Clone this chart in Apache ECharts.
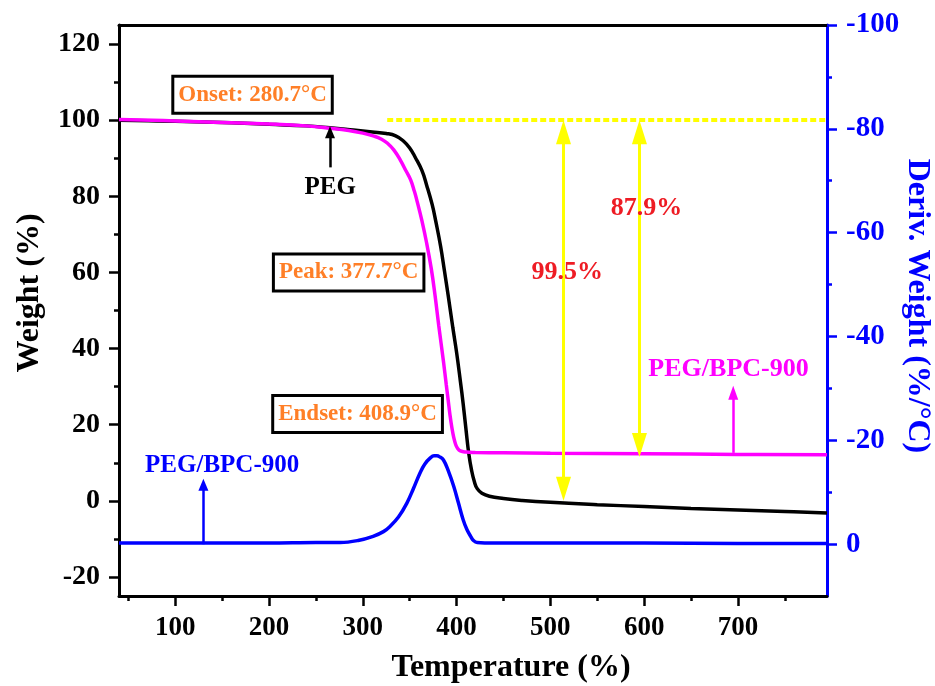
<!DOCTYPE html>
<html lang="en">
<head>
<meta charset="UTF-8">
<title>TGA / DTG</title>
<style>
    html, body { margin: 0; height: 100%; overflow: hidden; background: #fff; }
    #main { width: 935px; height: 686px; }
</style>
</head>
<body>
<div id="main"></div>
<script src="https://cdn.jsdelivr.net/npm/echarts@6/dist/echarts.min.js"></script>
<script>
    // PEG (black) TG curve: temperature / weight %
    const pegT = [40, 80, 120, 160, 200, 240, 265, 290, 310, 325, 335, 343, 350, 356, 363, 368, 374, 378, 383, 387, 391, 396, 400, 404, 407, 410, 413, 416, 419, 422, 427, 435, 450, 470, 500, 550, 600, 650, 700, 750, 795];
    const pegW = [100, 99.8, 99.6, 99.3, 98.9, 98.5, 98.0, 97.4, 96.9, 96.5, 95.9, 94.6, 92.7, 90.2, 86.8, 83.0, 77.8, 73.2, 66.8, 60.5, 54, 45.5, 39, 31.5, 25.5, 18.8, 12.4, 8.0, 5.0, 3.2, 2.0, 1.2, 0.6, 0.1, -0.4, -1.0, -1.5, -2.0, -2.4, -2.8, -3.2];

    // PEG/BPC-900 (magenta) TG curve
    const bpcT = [40, 100, 150, 200, 240, 265, 285, 300, 312, 320, 326, 333, 340, 346, 351, 355, 358, 363, 368, 373, 377, 381, 386, 389, 391, 393, 395, 397, 399, 401, 404, 410, 420, 450, 500, 600, 700, 795];
    const bpcW = [100.2, 99.8, 99.4, 99.0, 98.5, 97.9, 97.3, 96.6, 95.8, 95.0, 94.0, 92.2, 89.5, 86.7, 84.3, 81.3, 78.6, 73.6, 67.8, 61, 54, 46, 36.6, 30.5, 26.5, 22.5, 19.2, 16.6, 14.8, 13.8, 13.1, 12.8, 12.7, 12.6, 12.5, 12.4, 12.2, 12.1];

    // PEG/BPC-900 (blue) DTG curve, right axis (%/°C)
    const dtgT = [40, 100, 200, 250, 276, 295, 311, 322, 329, 338, 347, 354, 361, 366, 372, 376, 379, 382, 386, 391, 397, 402, 407, 411, 415, 418, 422, 440, 500, 600, 700, 795];
    const dtgV = [-0.2, -0.2, -0.2, -0.3, -0.3, -0.7, -1.5, -2.4, -3.4, -5.2, -7.9, -10.7, -13.7, -15.4, -16.6, -17.0, -17.0, -16.8, -16.2, -14.2, -11.1, -7.9, -4.7, -2.8, -1.5, -0.7, -0.3, -0.2, -0.2, -0.2, -0.1, -0.1];

    // ticks
    const xMajor = [100, 200, 300, 400, 500, 600, 700];
    const xMinor = [50, 150, 250, 350, 450, 550, 650, 750];
    const yLeftMajor = [-20, 0, 20, 40, 60, 80, 100, 120];
    const yLeftMinor = [-10, 10, 30, 50, 70, 90, 110];
    const yRightMajor = [-100, -80, -60, -40, -20, 0];
    const yRightMinor = [-90, -70, -50, -30, -10];

    const FONT = "'Liberation Serif', 'Times New Roman', serif";
    const ORANGE = '#ff7f27';
    const YELLOW = '#ffff00';
    const RED = '#ee1c24';

    const pair = (a, b) => a.map((v, i) => [v, b[i]]);

    function boxLabel(text, t, w) {
        return {
            coord: [t, w], symbol: 'rect', symbolSize: 1, itemStyle: { color: 'transparent' },
            label: {
                show: true, position: 'inside', formatter: text,
                color: ORANGE, fontFamily: FONT, fontWeight: 'bold', fontSize: 23,
                backgroundColor: '#fff', borderColor: '#000', borderWidth: 3, padding: [6, 4, 5, 4]
            }
        };
    }
    function plainLabel(text, t, w, color, size) {
        return {
            coord: [t, w], symbol: 'rect', symbolSize: 1, itemStyle: { color: 'transparent' },
            label: {
                show: true, position: 'inside', formatter: text,
                color: color, fontFamily: FONT, fontWeight: 'bold', fontSize: size
            }
        };
    }
    // arrowhead is centred on its end point, so "to" is the head centre
    function arrow(t, from, to, color, width, head, both) {
        return [
            { coord: [t, from], symbol: both ? 'triangle' : 'none', symbolSize: head, lineStyle: { color: color, width: width, type: 'solid' } },
            { coord: [t, to], symbol: 'triangle', symbolSize: head }
        ];
    }

    var myChart = echarts.init(document.getElementById('main'));

    const tickStyle = { color: '#000', width: 2.5 };
    const blueTick = { color: '#0000ff', width: 2.5 };

    var option = {
        animation: false,
        grid: { left: 119, right: 108, top: 25, bottom: 90 },
        xAxis: [
            {
                type: 'value', min: 40, max: 795, position: 'bottom',
                axisLine: { show: true, onZero: false, lineStyle: { color: '#000', width: 3 } },
                axisTick: { show: true, length: 10, lineStyle: tickStyle, customValues: xMajor },
                axisLabel: { customValues: xMajor, margin: 19, color: '#000', fontFamily: FONT, fontWeight: 'bold', fontSize: 27 },
                splitLine: { show: false }
            },
            {
                type: 'value', min: 40, max: 795, position: 'bottom',
                axisLine: { show: false, onZero: false },
                axisTick: { show: true, length: 5, lineStyle: tickStyle, customValues: xMinor },
                axisLabel: { show: false }, splitLine: { show: false }
            },
            {
                type: 'value', min: 40, max: 795, position: 'top',
                axisLine: { show: true, onZero: false, lineStyle: { color: '#000', width: 3 } },
                axisTick: { show: false }, axisLabel: { show: false }, splitLine: { show: false }
            }
        ],
        yAxis: [
            {
                type: 'value', min: -25, max: 125, position: 'left',
                axisLine: { show: true, onZero: false, lineStyle: { color: '#000', width: 3 } },
                axisTick: { show: true, length: 10, lineStyle: tickStyle, customValues: yLeftMajor },
                axisLabel: { customValues: yLeftMajor, margin: 19, color: '#000', fontFamily: FONT, fontWeight: 'bold', fontSize: 28 },
                splitLine: { show: false }
            },
            {
                type: 'value', min: -25, max: 125, position: 'left',
                axisLine: { show: false, onZero: false },
                axisTick: { show: true, length: 5, lineStyle: tickStyle, customValues: yLeftMinor },
                axisLabel: { show: false }, splitLine: { show: false }
            },
            {
                type: 'value', min: -100, max: 10, inverse: true, position: 'right',
                axisLine: { show: true, onZero: false, lineStyle: { color: '#0000ff', width: 3 } },
                axisTick: { show: true, length: 10, lineStyle: blueTick, customValues: yRightMajor },
                axisLabel: { customValues: yRightMajor, margin: 19, color: '#0000ff', fontFamily: FONT, fontWeight: 'bold', fontSize: 29 },
                splitLine: { show: false }
            },
            {
                type: 'value', min: -100, max: 10, inverse: true, position: 'right',
                axisLine: { show: false, onZero: false },
                axisTick: { show: true, length: 5, lineStyle: blueTick, customValues: yRightMinor },
                axisLabel: { show: false }, splitLine: { show: false }
            }
        ],
        series: [
            {
                name: 'DTG', type: 'line', xAxisIndex: 0, yAxisIndex: 2,
                data: pair(dtgT, dtgV), showSymbol: false, smooth: 0.4,
                lineStyle: { color: '#0000ff', width: 3.5 }, z: 2
            },
            {
                name: 'PEG', type: 'line', xAxisIndex: 0, yAxisIndex: 0,
                data: pair(pegT, pegW), showSymbol: false, smooth: 0.45,
                lineStyle: { color: '#000', width: 3.5 }, z: 3
            },
            {
                name: 'PEG/BPC-900', type: 'line', xAxisIndex: 0, yAxisIndex: 0,
                data: pair(bpcT, bpcW), showSymbol: false, smooth: 0.45,
                lineStyle: { color: '#ff00ff', width: 3.5 }, z: 4,
                markLine: {
                    silent: true, animation: false, label: { show: false }, z: 6,
                    emphasis: { disabled: true },
                    data: [
                        [
                            { coord: [326, 100.2], symbol: 'none', lineStyle: { color: YELLOW, width: 4, type: [6, 3] } },
                            { coord: [795, 100.2], symbol: 'none' }
                        ],
                        arrow(514, 96.8, 3.2, YELLOW, 3, [15, 24], true),
                        arrow(595, 96.8, 14.7, YELLOW, 3, [15, 24], true),
                        arrow(265, 87.6, 96.8, '#000', 2.5, [10, 12], false),
                        arrow(130, -11.4, 4.2, '#0000ff', 2.5, [10, 12], false),
                        arrow(695, 12.6, 28.4, '#ff00ff', 2.5, [10, 14], false)
                    ]
                },
                markPoint: {
                    silent: true, animation: false, z: 7,
                    data: [
                        boxLabel('Onset: 280.7°C', 182.4, 106.7),
                        boxLabel('Peak: 377.7°C', 284.9, 60.0),
                        boxLabel('Endset: 408.9°C', 294.4, 22.8),
                        plainLabel('PEG', 265.2, 82.4, '#000', 25),
                        plainLabel('PEG/BPC-900', 150, 9.2, '#0000ff', 25),
                        plainLabel('PEG/BPC-900', 690, 34.5, '#ff00ff', 26),
                        plainLabel('99.5%', 518, 60, RED, 26),
                        plainLabel('87.9%', 602.4, 76.8, RED, 26)
                    ]
                }
            }
        ],
        graphic: [
            {
                type: 'text', x: 30, y: 293, rotation: Math.PI / 2,
                style: { text: 'Weight (%)', font: 'bold 32px ' + FONT, fill: '#000', align: 'center', verticalAlign: 'middle' }
            },
            {
                type: 'text', x: 917, y: 306, rotation: -Math.PI / 2,
                style: { text: 'Deriv. Weight (%/°C)', font: 'bold 32px ' + FONT, fill: '#0000ff', align: 'center', verticalAlign: 'middle' }
            },
            {
                type: 'text', x: 511, y: 668,
                style: { text: 'Temperature (%)', font: 'bold 32px ' + FONT, fill: '#000', align: 'center', verticalAlign: 'middle' }
            }
        ]
    };
    myChart.setOption(option);
</script>
</body>
</html>
